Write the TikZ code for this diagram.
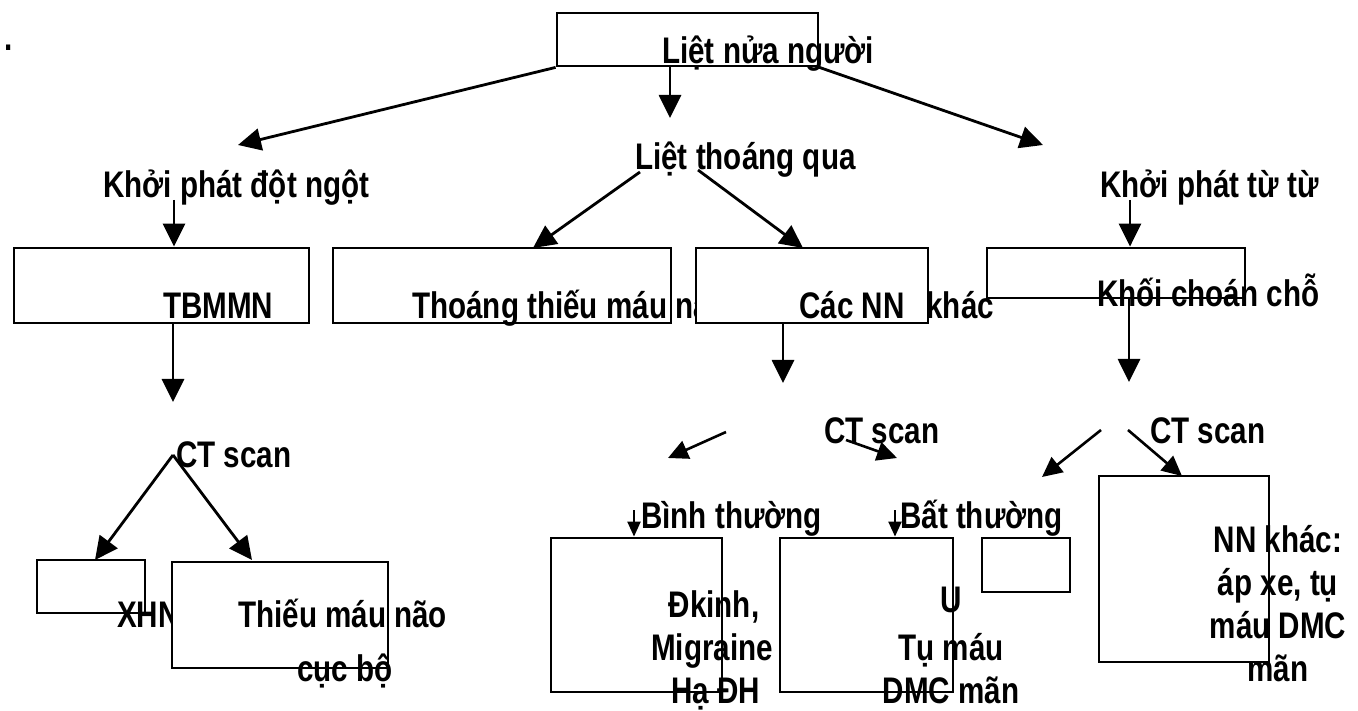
\documentclass[tikz,border=0pt]{standalone}
\usepackage{fontspec}
\setmainfont{Liberation Sans}[FakeStretch=0.8]
\usetikzlibrary{arrows.meta,fit}
\begin{document}
\begin{tikzpicture}[x=1pt,y=-1pt,
  lbl/.style={anchor=base west,inner sep=0pt,font=\fontsize{37}{43}\selectfont\bfseries},
  lblc/.style={lbl,anchor=base},
  box/.style={draw,line width=2.8pt,fill=white,inner sep=0pt},
  arr/.style={line width=2.8pt,-{Triangle[length=23pt,width=22pt]}},
  marr/.style={line width=2.6pt,-{Triangle[length=20pt,width=19pt]}},
  sarr/.style={line width=2.2pt,-{Triangle[length=15pt,width=13pt]}}]
\useasboundingbox (0,0) rectangle (1358,711);

% top node
\node[lbl] (dot) at (4,51) {.};
\node[box,fit={(557,13) (818,66)}] (top) {};
\node[lbl] (topt) at (662,64) {Liệt nửa người};

% second level labels
\node[lbl] (sud) at (103,198) {Khởi phát đột ngột};
\node[lbl] (tia) at (635,170) {Liệt thoáng qua};
\node[lbl] (grad) at (1100,198) {Khởi phát từ từ};

% third level boxes
\node[box,fit={(14,248) (309,323)}] (stroke) {};
\node[lbl] (strokt) at (163,319) {TBMMN};
\node[box,fit={(333,248) (671,323)}] (tiab) {};
\node[lbl] (tiat) at (412,319) {Thoáng thiếu máu não};
\node[box,fit={(696,248) (928,323)}] (other) {};
\node[lbl] (othert) at (799,319) {Các NN\hspace{22pt}khác};
\node[box,fit={(987,248) (1245,298)}] (mass) {};
\node[lbl] (masst) at (1097,307) {Khối choán chỗ};

% CT scan labels
\node[lbl] (ct1) at (176,467) {CT scan};
\node[lbl] (ct2) at (824,443) {CT scan};
\node[lbl] (ct3) at (1150,443) {CT scan};

% results of the first CT scan
\node[box,fit={(37,560) (145,613)}] (sah) {};
\node[lbl] (saht) at (117,627) {XHN};
\node[box,fit={(172,562) (388,668)}] (isch) {};
\node[lbl] (ischa) at (238,627) {Thiếu máu não};
\node[lbl] (ischb) at (297,681) {cục bộ};

% results of the other CT scans
\node[box,fit={(551,538) (722,692)}] (norm) {};
\node[lblc] (norma) at (714,617) {Đkinh,};
\node[lblc] (normb) at (712,660) {Migraine};
\node[lblc] (normc) at (716,703) {Hạ ĐH};
\node[box,fit={(780,538) (953,692)}] (abn) {};
\node[lblc] (abna) at (951,612) {U};
\node[lblc] (abnb) at (951,660) {Tụ máu};
\node[lblc] (abnc) at (951,703) {DMC mãn};
\node[box,fit={(982,538) (1070,592)}] (small) {};
\node[box,fit={(1099,476) (1269,662)}] (nnk) {};
\node[lblc] (nnka) at (1278,552) {NN khác:};
\node[lblc] (nnkb) at (1278,595) {áp xe, tụ};
\node[lblc] (nnkc) at (1278,638) {máu DMC};
\node[lblc] (nnkd) at (1278,681) {mãn};
\node[lbl] (normal) at (641,528) {Bình thường};
\node[lbl] (abnormal) at (900,528) {Bất thường};

% free ends of the connectors
\coordinate (p1) at (238,145);
\coordinate (p2) at (670,118);
\coordinate (p3) at (1043,145);
\coordinate (s4) at (174,200);
\coordinate (s5) at (640,172);
\coordinate (e5) at (533,248);
\coordinate (s6) at (698,170);
\coordinate (e6) at (803,248);
\coordinate (s7) at (1130,200);
\coordinate (e8) at (173,402);
\coordinate (e9) at (783,383);
\coordinate (e10) at (1129,382);
\coordinate (s11) at (173,455);
\coordinate (e11) at (95,560);
\coordinate (e12) at (252,560);
\coordinate (s13) at (726,432);
\coordinate (e13) at (668,458);
\coordinate (s14) at (846,440);
\coordinate (e14) at (897,458);
\coordinate (s15) at (1101,430);
\coordinate (e15) at (1042,477);
\coordinate (s16) at (1128,430);
\coordinate (e16) at (1182,476);
\coordinate (s17) at (634,510);
\coordinate (s18) at (895,510);

% connectors
\draw[arr] (top.south west) -- (p1);
\draw[arr] (top.south west -| p2) -- (p2);
\draw[arr] (top.south east) -- (p3);
\draw[arr] (s4) -- (s4 |- stroke.north);
\draw[arr] (s5) -- (e5);
\draw[arr] (s6) -- (e6);
\draw[arr] (s7) -- (s7 |- mass.north);
\draw[arr] (e8 |- stroke.south) -- (e8);
\draw[arr] (e9 |- other.south) -- (e9);
\draw[arr] (e10 |- mass.south) -- (e10);
\draw[arr] (s11) -- (e11);
\draw[arr] (s11) -- (e12);
\draw[marr] (s13) -- (e13);
\draw[marr] (s14) -- (e14);
\draw[marr] (s15) -- (e15);
\draw[marr] (s16) -- (e16);
\draw[sarr] (s17) -- (s17 |- norm.north);
\draw[sarr] (s18) -- (s18 |- abn.north);
\end{tikzpicture}
\end{document}
